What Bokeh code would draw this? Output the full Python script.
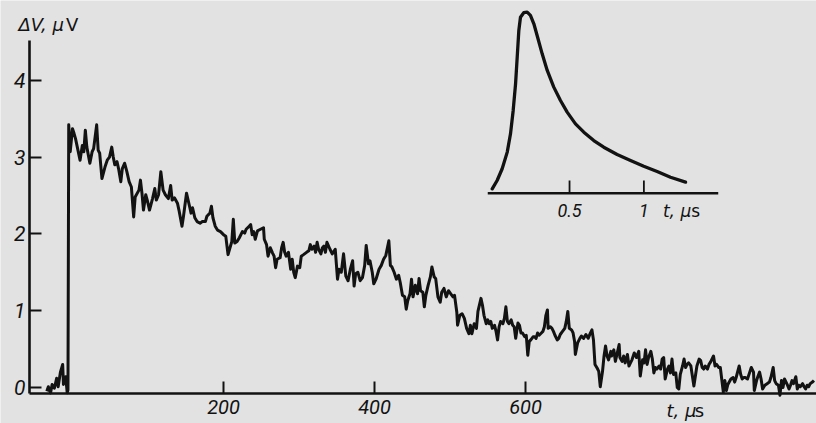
from bokeh.plotting import figure
from bokeh.models import Range1d, FixedTicker, Label
from bokeh.embed import file_html
from bokeh.resources import INLINE

# ---- main trace: time (microseconds) and signal (microvolts)
t_us = [-34, -32, -29, -27, -24, -21, -19, -16, -13, -12, -9, -7, -6, -5, -3, 0, 2, 4,
        10, 13, 15, 17, 19, 23, 26, 28, 32, 34, 36, 39, 43, 46, 49, 52, 54, 56, 59, 61,
        64, 66, 69, 72, 75, 78, 81, 83, 88, 90, 92, 94, 97, 99, 102, 106, 109, 111, 114,
        117, 120, 123, 127, 130, 132, 135, 139, 141, 145, 147, 151, 155, 157, 159, 162,
        165, 169, 172, 176, 178, 182, 184, 186, 189, 192, 196, 200, 203, 206, 208, 211,
        213, 215, 218, 221, 225, 228, 230, 234, 236, 238, 240, 242, 245, 249, 253, 254,
        257, 259, 262, 265, 267, 269, 271, 275, 277, 279, 281, 283, 286, 289, 291, 293,
        295, 298, 301, 303, 306, 310, 313, 315, 317, 320, 322, 324, 326, 329, 331, 333,
        335, 337, 341, 344, 348, 351, 353, 356, 359, 362, 365, 368, 371, 373, 375, 378,
        381, 384, 387, 389, 392, 394, 397, 399, 402, 406, 409, 412, 415, 419, 421, 423,
        426, 429, 432, 434, 437, 440, 442, 444, 447, 449, 451, 454, 457, 459, 461, 464,
        466, 468, 471, 474, 476, 479, 481, 484, 487, 489, 492, 495, 498, 501, 504, 506,
        509, 510, 513, 516, 519, 522, 525, 527, 529, 532, 535, 537, 541, 543, 545, 548,
        550, 552, 554, 556, 559, 561, 563, 565, 567, 570, 572, 574, 576, 578, 581, 583,
        585, 587, 590, 592, 594, 596, 599, 601, 603, 605, 607, 610, 612, 614, 616, 618,
        621, 623, 625, 627, 629, 630, 633, 635, 637, 639, 642, 644, 646, 649, 652, 654,
        656, 658, 661, 663, 665, 666, 669, 672, 674, 677, 680, 683, 686, 688, 690, 692,
        695, 697, 699, 702, 704, 706, 708, 710, 713, 714, 717, 719, 722, 724, 725, 728,
        730, 732, 735, 737, 739, 741, 744, 747, 750, 752, 755, 757, 759, 761, 763, 766,
        768, 770, 772, 774, 777, 779, 781, 783, 785, 788, 790, 792, 794, 796, 799, 801,
        803, 805, 808, 810, 812, 814, 816, 819, 821, 823, 825, 827, 830, 832, 834, 836,
        838, 841, 843, 845, 849, 851, 853, 856, 858, 861, 862, 864, 866, 868, 872, 875,
        877, 879, 883, 885, 887, 889, 891, 894, 897, 899, 902, 903, 906, 908, 910, 912,
        914, 917, 920, 923, 925, 928, 930, 932, 935, 937, 939, 941, 943, 947, 949, 951,
        953, 955, 958, 960, 962, 964, 967, 969, 971, 973, 975, 977, 980, 982]
dv_uv = [-0.05, 0.01, -0.07, 0.04, -0.01, 0.12, 0.01, 0.20, 0.30, 0.04, 0.14, -0.07, -0.03,
         3.42, 3.07, 3.37, 3.31, 3.24,
         2.96, 3.15, 3.07, 3.35, 3.13, 2.92, 3.07, 3.11, 3.42, 3.09, 3.05, 2.72, 2.87, 2.96,
         3.00, 3.13, 3.00, 2.90, 2.94, 2.85, 2.68, 2.85, 2.92, 2.81, 2.68, 2.61, 2.22, 2.48,
         2.57, 2.70, 2.53, 2.31, 2.51, 2.44, 2.31, 2.46, 2.59, 2.44, 2.51, 2.81, 2.57, 2.51,
         2.46, 2.63, 2.44, 2.47, 2.40, 2.31, 2.10, 2.23, 2.53, 2.36, 2.27, 2.34, 2.21, 2.16,
         2.14, 2.16, 2.16, 2.23, 2.27, 2.36, 2.21, 2.10, 2.05, 2.03, 1.99, 1.97, 1.73, 1.80,
         1.90, 2.19, 1.88, 1.90, 1.95, 2.03, 2.01, 2.06, 2.10, 2.12, 1.99, 2.03, 1.93, 2.04,
         2.06, 2.08, 1.93, 1.86, 1.71, 1.82, 1.75, 1.71, 1.56, 1.67, 1.69, 1.82, 1.89, 1.76,
         1.71, 1.76, 1.54, 1.67, 1.50, 1.43, 1.58, 1.56, 1.71, 1.73, 1.76, 1.78, 1.86, 1.80,
         1.84, 1.76, 1.89, 1.80, 1.74, 1.82, 1.84, 1.76, 1.89, 1.80, 1.74, 1.80, 1.41, 1.54,
         1.50, 1.74, 1.45, 1.39, 1.54, 1.65, 1.32, 1.48, 1.50, 1.39, 1.43, 1.59, 1.85, 1.61,
         1.65, 1.50, 1.35, 1.41, 1.54, 1.59, 1.67, 1.72, 1.91, 1.59, 1.57, 1.50, 1.41, 1.46,
         1.37, 1.20, 1.18, 1.02, 1.13, 1.22, 1.41, 1.18, 1.33, 1.22, 1.42, 1.26, 1.24, 1.05,
         1.20, 1.33, 1.44, 1.57, 1.44, 1.42, 1.18, 1.11, 1.24, 1.29, 1.18, 1.26, 1.22, 1.18,
         1.20, 0.98, 0.81, 0.94, 0.96, 0.90, 0.77, 0.70, 0.81, 0.70, 0.83, 0.77, 0.99, 1.16,
         1.07, 0.94, 0.83, 0.88, 0.83, 0.86, 0.77, 0.81, 0.73, 0.62, 0.79, 0.86, 0.83, 0.90,
         1.05, 0.86, 0.83, 0.88, 0.81, 0.79, 0.64, 0.84, 0.81, 0.71, 0.71, 0.66, 0.68, 0.42,
         0.60, 0.62, 0.66, 0.66, 0.64, 0.71, 0.68, 0.71, 0.73, 0.79, 0.94, 1.01, 0.77, 0.79,
         0.77, 0.73, 0.68, 0.62, 0.64, 0.69, 0.73, 0.77, 0.86, 0.99, 0.77, 0.75, 0.71, 0.60,
         0.43, 0.58, 0.64, 0.67, 0.64, 0.69, 0.64, 0.71, 0.75, 0.62, 0.30, 0.25, 0.21, 0.01,
         0.21, 0.41, 0.54, 0.41, 0.36, 0.47, 0.41, 0.49, 0.34, 0.47, 0.56, 0.39, 0.34, 0.41,
         0.32, 0.43, 0.28, 0.32, 0.36, 0.45, 0.39, 0.47, 0.15, 0.36, 0.32, 0.49, 0.30, 0.39,
         0.47, 0.37, 0.19, 0.26, 0.24, 0.28, 0.24, 0.37, 0.39, 0.11, 0.24, 0.28, 0.19, 0.37,
         0.17, 0.19, 0.00, -0.02, 0.17, 0.28, 0.37, 0.26, 0.30, 0.32, 0.28, 0.15, 0.02, 0.15,
         0.28, 0.37, 0.35, 0.26, 0.24, 0.28, 0.24, 0.30, 0.33, 0.41, 0.28, 0.30, 0.26, 0.26,
         0.02, -0.06, 0.09, -0.04, 0.04, 0.11, 0.13, 0.07, 0.13, 0.28, 0.17, 0.11, 0.13, 0.13,
         0.11, 0.20, 0.26, 0.20, -0.04, 0.09, 0.15, 0.20, 0.11, -0.02, 0.03, 0.05, 0.07, 0.13,
         0.26, 0.09, 0.05, 0.03, -0.10, 0.09, 0.00, 0.11, 0.03, -0.02, 0.03, 0.09, 0.05, 0.14,
         -0.02, 0.03, 0.01, 0.05, 0.01, -0.02, 0.03, 0.01, 0.05, 0.07, 0.09]

# ---- inset: pulse shape, time in microseconds, amplitude relative to its peak
inset_t = [-0.020, 0.013, 0.047, 0.081, 0.103, 0.121, 0.137, 0.148, 0.159, 0.170, 0.192,
           0.215, 0.237, 0.260, 0.282, 0.316, 0.350, 0.394, 0.439, 0.484, 0.540, 0.596,
           0.663, 0.730, 0.820, 0.910, 0.999, 1.089, 1.179, 1.280]
inset_amp = [0.024, 0.070, 0.135, 0.227, 0.328, 0.457, 0.604, 0.751, 0.899, 0.972, 0.997,
             1.000, 0.982, 0.936, 0.871, 0.770, 0.678, 0.586, 0.512, 0.448, 0.383, 0.337,
             0.291, 0.254, 0.214, 0.181, 0.149, 0.120, 0.088, 0.061]

x_ticks = [200, 400, 600]
y_ticks = [0, 1, 2, 3, 4]
x_axis_span = (-57, 990)
y_axis_span = (-0.078, 4.52)
inset_ticks = [0.5, 1.0]
inset_tick_labels = ["0.5", "1"]
inset_axis_t = [-0.05, 1.50]

BG = "#e2e2e2"
INK = "#121212"
NUM_FONT = "Roboto"
TXT_FONT = "DejaVu Sans"

p = figure(width=816, height=423, output_backend="svg", toolbar_location=None,
           x_range=Range1d(-95.36, 985.4), y_range=Range1d(-0.469, 5.039),
           min_border_left=0, min_border_right=0, min_border_top=0, min_border_bottom=0,
           background_fill_color=BG, border_fill_color=BG, outline_line_color=None)
p.extra_x_ranges = {"it": Range1d(-3.3268, 2.1608)}
p.extra_y_ranges = {"ia": Range1d(-1.2724, 1.0646)}
p.grid.visible = False

for ax in (p.xaxis[0], p.yaxis[0]):
    ax.axis_line_color = INK
    ax.axis_line_width = 2.6
    ax.major_tick_line_color = INK
    ax.major_tick_line_width = 2
    ax.major_tick_in = 12
    ax.major_tick_out = 0
    ax.minor_tick_line_color = None
    ax.major_label_text_font = NUM_FONT
    ax.major_label_text_font_style = "italic"
    ax.major_label_text_color = INK

p.xaxis.ticker = FixedTicker(ticks=x_ticks)
p.xaxis.fixed_location = y_axis_span[0]
p.xaxis.bounds = x_axis_span
p.xaxis.major_label_text_font_size = "20px"
p.xaxis.major_label_standoff = 7
p.yaxis.ticker = FixedTicker(ticks=y_ticks)
p.yaxis.fixed_location = x_axis_span[0]
p.yaxis.bounds = y_axis_span
p.yaxis.major_label_text_font_size = "21px"
p.yaxis.major_label_standoff = 4

# main trace
p.line(t_us, dv_uv, line_color=INK, line_width=3, line_join="round")

# inset
p.line(inset_t, inset_amp, x_range_name="it", y_range_name="ia",
       line_color=INK, line_width=3.3, line_join="round", line_cap="round")
p.line(inset_axis_t, [0, 0], x_range_name="it", y_range_name="ia",
       line_color=INK, line_width=2.6)
p.segment(x0=inset_ticks, y0=[0] * len(inset_ticks), x1=inset_ticks,
          y1=[0.07] * len(inset_ticks), x_range_name="it", y_range_name="ia",
          line_color=INK, line_width=1.8)
for tv, tl in zip(inset_ticks, inset_tick_labels):
    p.add_layout(Label(x=tv, y=-0.096, x_range_name="it", y_range_name="ia", text=tl,
                       text_align="center", text_baseline="middle", text_font=NUM_FONT,
                       text_font_style="italic", text_font_size="18px", text_color=INK))
p.add_layout(Label(x=1.128, y=-0.096, x_range_name="it", y_range_name="ia", text="t, μ",
                   text_align="left", text_baseline="middle", text_font=TXT_FONT,
                   text_font_style="italic", text_font_size="17px", text_color=INK))
p.add_layout(Label(x=1.318, y=-0.096, x_range_name="it", y_range_name="ia", text="s",
                   text_align="left", text_baseline="middle", text_font=TXT_FONT,
                   text_font_size="17px", text_color=INK))

# axis titles
p.add_layout(Label(x=-71.5, y=4.72, text="ΔV, μ", text_align="left", text_baseline="middle",
                   text_font=TXT_FONT, text_font_style="italic", text_font_size="18px",
                   text_color=INK))
p.add_layout(Label(x=-8.5, y=4.72, text="V", text_align="left", text_baseline="middle",
                   text_font=TXT_FONT, text_font_size="18px", text_color=INK))
p.add_layout(Label(x=786.8, y=-0.30, text="t, μ", text_align="left", text_baseline="middle",
                   text_font=TXT_FONT, text_font_style="italic", text_font_size="18px",
                   text_color=INK))
p.add_layout(Label(x=824.0, y=-0.30, text="s", text_align="left", text_baseline="middle",
                   text_font=TXT_FONT, text_font_size="18px", text_color=INK))

open("out.html", "w").write(file_html(p, INLINE))
